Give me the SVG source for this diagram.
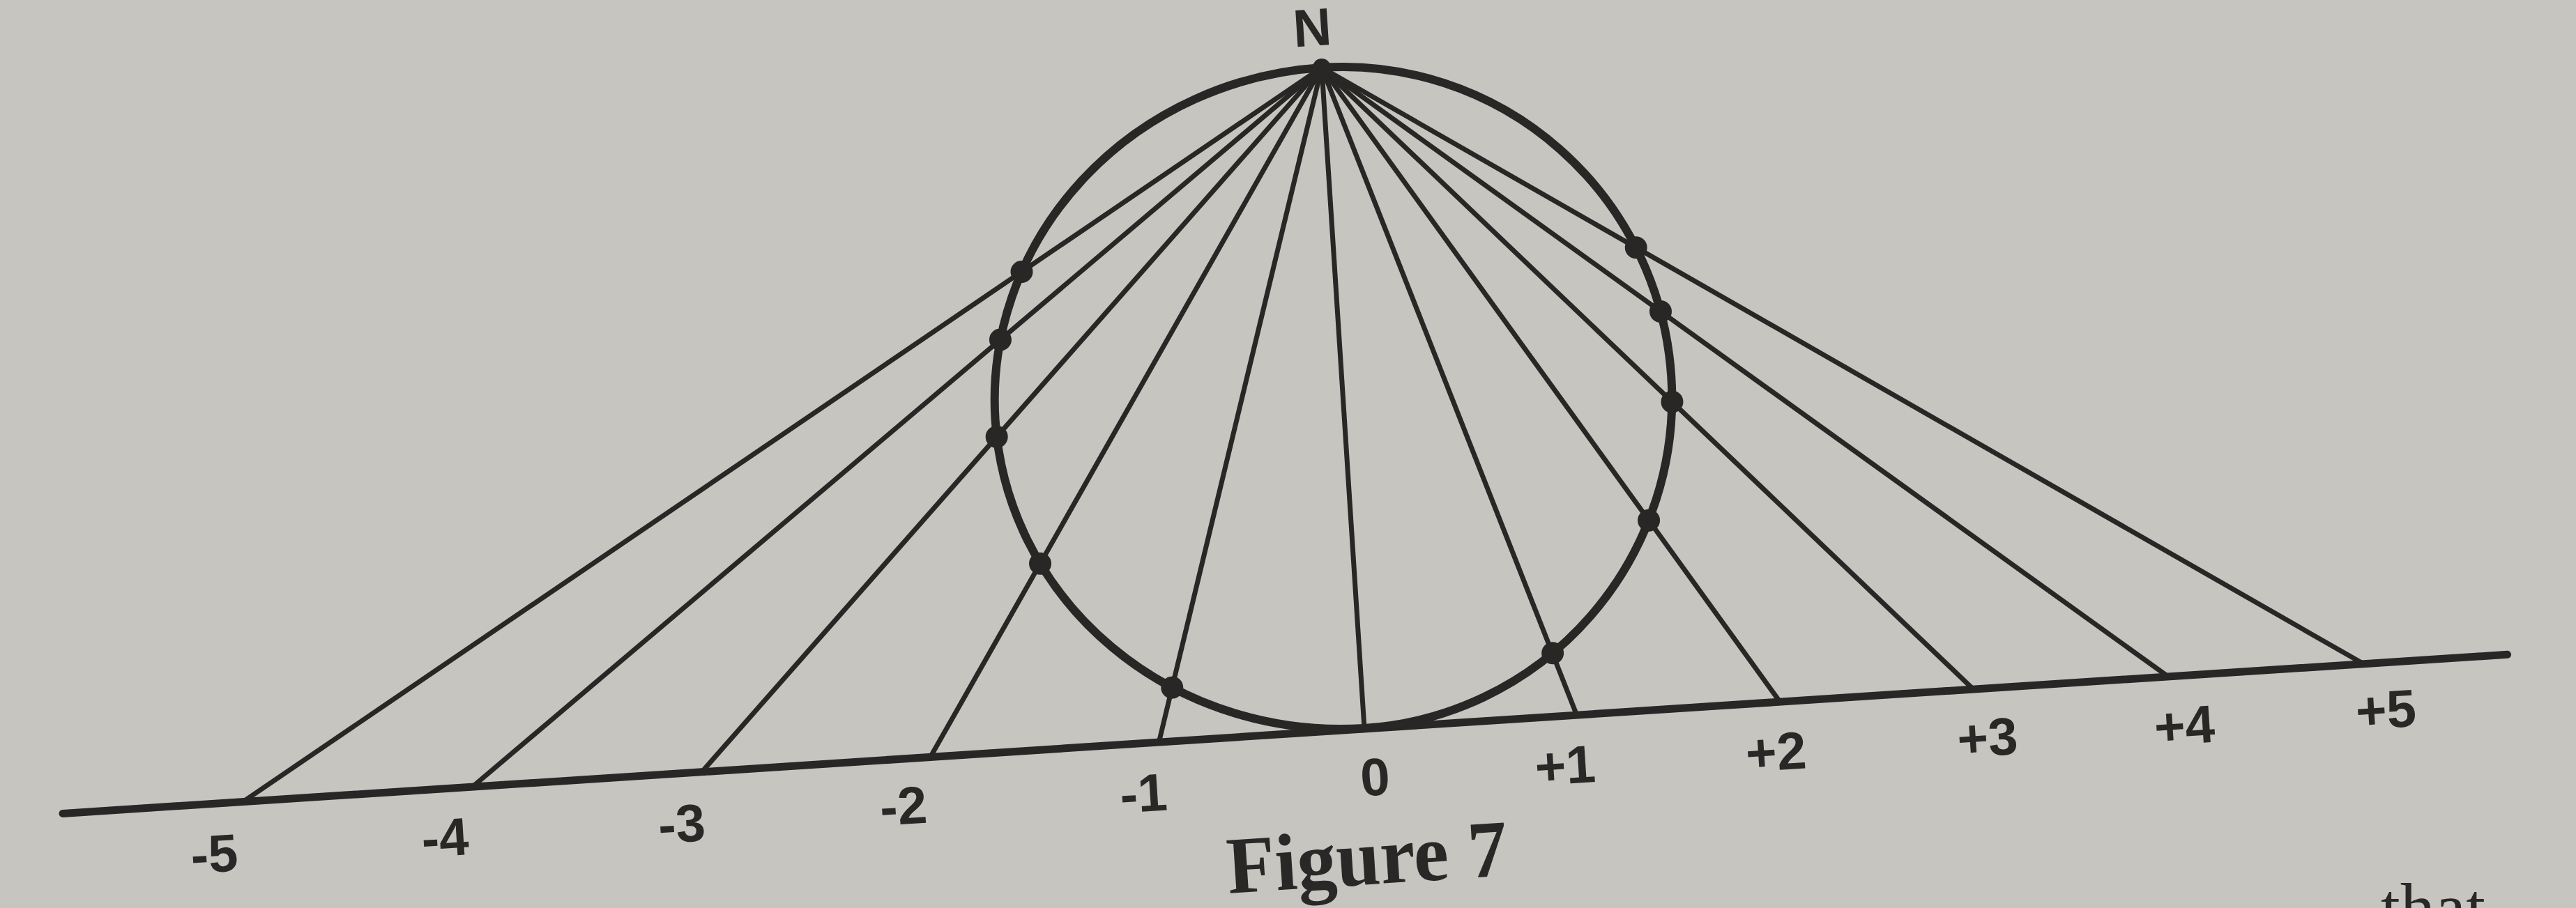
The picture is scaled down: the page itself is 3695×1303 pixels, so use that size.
<svg xmlns="http://www.w3.org/2000/svg" width="3695" height="1303" viewBox="0 0 3695 1303">
<defs>
<style>
.ink{stroke:#292726;fill:none;stroke-linecap:round}
.ray{stroke-width:7}
.circ{stroke-width:12}
.base{stroke-width:11}
.dot{fill:#292726}
.lbl{font-family:"Liberation Sans","DejaVu Sans",sans-serif;font-weight:bold;font-size:76px;fill:#2a2827;text-anchor:middle}
.cap{font-family:"Liberation Serif","DejaVu Serif",serif;font-weight:bold;font-size:116px;fill:#2a2827;text-anchor:middle}
.body{font-family:"Liberation Serif","DejaVu Serif",serif;font-size:100px;fill:#2a2827;text-anchor:middle}
</style>
</defs>
<rect x="0" y="0" width="3695" height="1303" fill="#c6c5c0"/>
<g id="figure" transform="translate(1957,1045) rotate(-3.69)">
  <g id="baseline">
    <line class="ink base" x1="-1871" y1="2" x2="1643" y2="0"/>
  </g>
  <g id="circle">
    <path class="ink circ" d="M0,-950 A472,475 0 0 1 0,0 A500,475 0 0 1 0,-950 Z"/>
  </g>
  <g id="connectors">
    <line class="ink ray" x1="0" y1="-950" x2="-1609" y2="0"/>
    <line class="ink ray" x1="0" y1="-950" x2="-1280" y2="0"/>
    <line class="ink ray" x1="0" y1="-950" x2="-951" y2="0"/>
    <line class="ink ray" x1="0" y1="-950" x2="-623" y2="0"/>
    <line class="ink ray" x1="0" y1="-950" x2="-295" y2="0"/>
    <line class="ink ray" x1="0" y1="-950" x2="0" y2="0"/>
    <line class="ink ray" x1="0" y1="-950" x2="305" y2="0"/>
    <line class="ink ray" x1="0" y1="-950" x2="597" y2="0"/>
    <line class="ink ray" x1="0" y1="-950" x2="875" y2="0"/>
    <line class="ink ray" x1="0" y1="-950" x2="1155" y2="0"/>
    <line class="ink ray" x1="0" y1="-950" x2="1436" y2="0"/>
  </g>
  <g id="point-N"><circle class="dot" cx="0" cy="-950" r="13"/></g>
  <g id="points">
    <circle class="dot" cx="-448.3" cy="-685.3" r="16"/>
    <circle class="dot" cx="-485.1" cy="-589.9" r="16"/>
    <circle class="dot" cx="-499.3" cy="-451.2" r="16"/>
    <circle class="dot" cx="-448.8" cy="-265.6" r="16"/>
    <circle class="dot" cx="-271.4" cy="-76.0" r="16"/>
    <circle class="dot" cx="276.5" cy="-90.1" r="16"/>
    <circle class="dot" cx="426.4" cy="-271.4" r="16"/>
    <circle class="dot" cx="470.7" cy="-439.0" r="16"/>
    <circle class="dot" cx="462.6" cy="-569.5" r="16"/>
    <circle class="dot" cx="433.3" cy="-663.3" r="16"/>
  </g>
  <g id="labels">
    <text class="lbl" x="-10" y="-982">N</text>
    <text class="lbl" x="-1658" y="100">-5</text>
    <text class="lbl" x="-1326" y="98">-4</text>
    <text class="lbl" x="-986" y="100">-3</text>
    <text class="lbl" x="-667" y="95">-2</text>
    <text class="lbl" x="-322" y="99">-1</text>
    <text class="lbl" x="11" y="97">0</text>
    <text class="lbl" x="284" y="98">+1</text>
    <text class="lbl" x="587" y="98">+2</text>
    <text class="lbl" x="891" y="97">+3</text>
    <text class="lbl" x="1174" y="98">+4</text>
    <text class="lbl" x="1464" y="94">+5</text>
    <text class="cap" x="-8" y="224" textLength="403" lengthAdjust="spacingAndGlyphs">Figure 7</text>
  </g>
</g>
<g id="page-text">
  <text class="body" x="3490" y="1336">that</text>
</g>
</svg>
